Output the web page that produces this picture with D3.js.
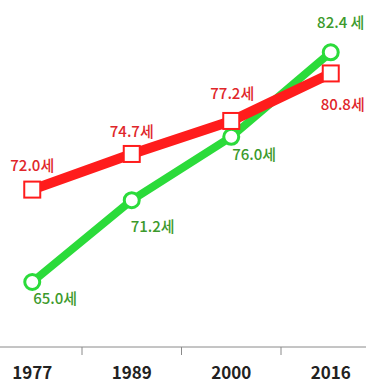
<!DOCTYPE html>
<html><head><meta charset="utf-8">
<script src="https://cdn.jsdelivr.net/npm/d3@7"></script>
<style>body{margin:0;background:#fff}svg{display:block}</style>
</head><body>
<svg id="c" width="366" height="384"></svg>
<script>
const years = ["1977","1989","2000","2016"];
const redValues = [72.0, 74.7, 77.2, 80.8];
const greenValues = [65.0, 71.2, 76.0, 82.4];
const redLabels = ["72.0세","74.7세","77.2세","80.8세"];
const greenLabels = ["65.0세","71.2세","76.0세","82.4 세"];

const svg = d3.select("#c");
const font = "'Noto Sans CJK KR','Noto Sans',sans-serif";
const x = d3.scaleBand().domain(years).range([-17.5, 380.5]).padding(0);
const y = d3.scaleLinear().domain([60, 85]).range([348, 18]);
const cx = d => x(d) + x.bandwidth()/2;

// axis
const axisY = 347;
svg.append("line").attr("x1",0).attr("x2",366).attr("y1",axisY).attr("y2",axisY)
  .attr("stroke","#8a8a8a").attr("stroke-width",1);
svg.selectAll(".tk").data(years.slice(1)).enter().append("line")
  .attr("x1",d=>x(d)).attr("x2",d=>x(d)).attr("y1",axisY).attr("y2",axisY+8)
  .attr("stroke","#8a8a8a").attr("stroke-width",1);
svg.selectAll(".yl").data(years).enter().append("text")
  .attr("x",d=>cx(d)).attr("y",379).attr("text-anchor","middle")
  .attr("font-family",font).attr("font-weight","bold").attr("font-size",17)
  .attr("fill","#222").text(d=>d);

const line = d3.line().x((d,i)=>cx(years[i])).y(d=>y(d));

// green series
const green = "#2bdb3a", greenText = "#3c9a2c";
const red = "#ff1c1c", redText = "#e0262a";
svg.append("path").datum(greenValues).attr("d",line).attr("fill","none")
  .attr("stroke",green).attr("stroke-width",8).attr("stroke-linejoin","round");
svg.selectAll(".gc").data(greenValues).enter().append("circle")
  .attr("cx",(d,i)=>cx(years[i])).attr("cy",d=>y(d)).attr("r",7.5)
  .attr("fill","#fff").attr("stroke",green).attr("stroke-width",3);

// red series
svg.append("path").datum(redValues).attr("d",line).attr("fill","none")
  .attr("stroke",red).attr("stroke-width",10).attr("stroke-linejoin","round");
svg.selectAll(".rs").data(redValues).enter().append("rect")
  .attr("x",(d,i)=>cx(years[i])-8).attr("y",d=>y(d)-8).attr("width",16).attr("height",16)
  .attr("fill","#fff").attr("stroke",red).attr("stroke-width",2);

// labels
const redOff = [[0,-19,"middle"],[0,-17,"middle"],[1,-22,"middle"],[12,37,"middle"]];
svg.selectAll(".rl").data(redValues).enter().append("text")
  .attr("x",(d,i)=>cx(years[i])+redOff[i][0]).attr("y",(d,i)=>y(d)+redOff[i][1])
  .attr("text-anchor",(d,i)=>redOff[i][2])
  .attr("font-family",font).attr("font-size",15).attr("font-weight",500)
  .attr("fill",redText).text((d,i)=>redLabels[i]);
const greenOff = [[1,22,"start"],[-1,32,"start"],[1,23,"start"],[10,-24,"middle"]];
svg.selectAll(".gl").data(greenValues).enter().append("text")
  .attr("x",(d,i)=>cx(years[i])+greenOff[i][0]).attr("y",(d,i)=>y(d)+greenOff[i][1])
  .attr("text-anchor",(d,i)=>greenOff[i][2])
  .attr("font-family",font).attr("font-size",15).attr("font-weight",500)
  .attr("fill",greenText).text((d,i)=>greenLabels[i]);
</script>
</body></html>
